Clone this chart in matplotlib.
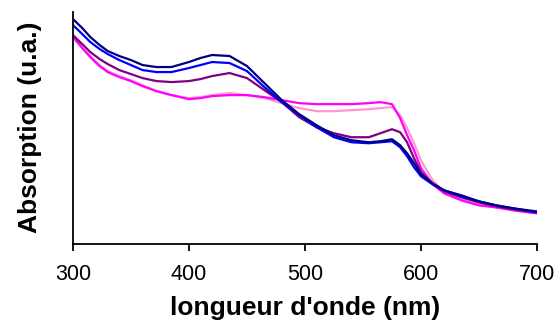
import matplotlib
matplotlib.use('Agg')
import matplotlib.pyplot as plt

# wavelengths (nm) and absorbance curves (arbitrary units)
wavelength = [300, 308, 315, 323, 330, 340, 350, 360, 372, 385, 400, 410, 420, 435, 450, 465, 480,
              495, 510, 525, 540, 555, 565, 575, 582, 588, 594, 600, 610, 620, 635, 650, 665, 680, 700]

navy = [2.24, 2.15, 2.06, 1.98, 1.92, 1.87, 1.83, 1.78, 1.76, 1.76, 1.81, 1.85, 1.88, 1.87, 1.77,
        1.60, 1.43, 1.29, 1.18, 1.08, 1.03, 1.01, 1.02, 1.04, 0.98, 0.90, 0.80, 0.69, 0.60, 0.53,
        0.48, 0.42, 0.38, 0.35, 0.32]
blue = [2.18, 2.09, 2.01, 1.94, 1.89, 1.83, 1.78, 1.73, 1.71, 1.71, 1.75, 1.78, 1.81, 1.80, 1.72,
        1.56, 1.41, 1.28, 1.16, 1.06, 1.01, 1.00, 1.01, 1.02, 0.96, 0.87, 0.76, 0.67, 0.59, 0.53,
        0.47, 0.42, 0.38, 0.35, 0.31]
purple = [2.08, 1.99, 1.91, 1.84, 1.79, 1.73, 1.69, 1.65, 1.62, 1.61, 1.62, 1.64, 1.67, 1.70, 1.65,
          1.53, 1.41, 1.26, 1.16, 1.10, 1.06, 1.06, 1.10, 1.14, 1.11, 1.01, 0.85, 0.71, 0.60, 0.52,
          0.46, 0.41, 0.37, 0.34, 0.31]
magenta = [2.06, 1.95, 1.86, 1.77, 1.71, 1.66, 1.62, 1.57, 1.52, 1.48, 1.44, 1.45, 1.47, 1.48, 1.48,
           1.46, 1.43, 1.40, 1.39, 1.39, 1.39, 1.40, 1.41, 1.39, 1.25, 1.08, 0.93, 0.75, 0.59, 0.50,
           0.43, 0.38, 0.36, 0.33, 0.30]
pink = [2.07, 1.96, 1.87, 1.78, 1.72, 1.67, 1.63, 1.58, 1.52, 1.48, 1.45, 1.46, 1.48, 1.50, 1.48,
        1.45, 1.40, 1.35, 1.32, 1.32, 1.33, 1.34, 1.35, 1.36, 1.28, 1.15, 1.00, 0.83, 0.63, 0.52,
        0.44, 0.39, 0.36, 0.34, 0.31]

xticks = [300, 400, 500, 600, 700]

plt.rcParams['font.family'] = ['Liberation Sans', 'DejaVu Sans']

fig = plt.figure(figsize=(5.56, 3.30), dpi=100)
ax = fig.add_axes([0.131, 0.262, 0.835, 0.702])

ax.plot(wavelength, pink, color='#FF99CC', lw=1.6)
ax.plot(wavelength, magenta, color='#FF00FF', lw=1.6)
ax.plot(wavelength, purple, color='#800080', lw=1.6)
ax.plot(wavelength, blue, color='#0000FF', lw=1.6)
ax.plot(wavelength, navy, color='#000080', lw=1.6)

ax.set_xlim(300, 700)
ax.set_ylim(0, 2.31)
ax.set_xticks(xticks)
ax.set_yticks([])
ax.spines['top'].set_visible(False)
ax.spines['right'].set_visible(False)
for s in ['left', 'bottom']:
    ax.spines[s].set_linewidth(1.3)
ax.tick_params(axis='x', direction='out', length=5, width=1.3, labelsize=15.5, pad=10)

ax.set_xlabel("longueur d'onde (nm)", fontsize=19, fontweight='bold', labelpad=8)
ax.set_ylabel('Absorption (u.a.)', fontsize=19, fontweight='bold', labelpad=22)

fig.savefig('out.png', dpi=100)
